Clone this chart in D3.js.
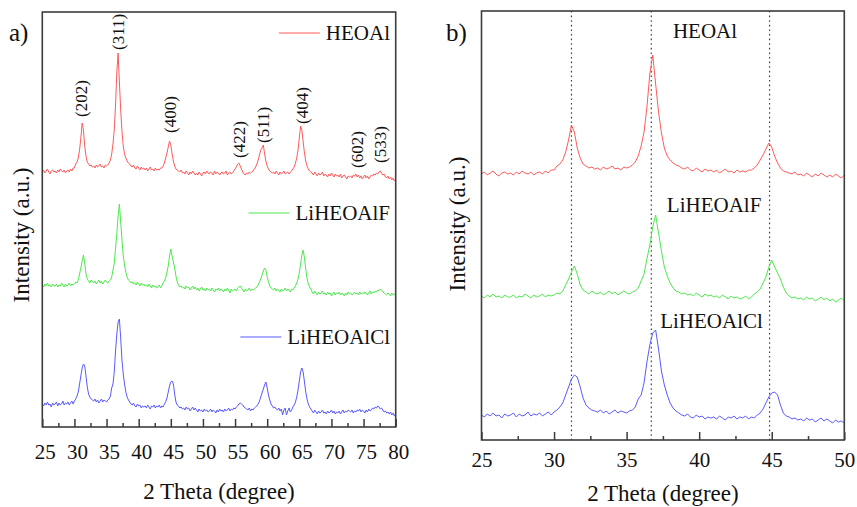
<!DOCTYPE html>
<html>
<head>
<meta charset="utf-8">
<script src="https://cdn.jsdelivr.net/npm/d3@7"></script>
<style>
  body { margin: 0; background: #fff; }
  svg text { font-family: "Liberation Serif", "Times New Roman", Times, "DejaVu Serif", serif; fill: #111; }
</style>
</head>
<body>
<svg id="chart" width="857" height="507"></svg>
<script>
// scan grid: 25-80 deg, 0.2 deg step
var scanStart = 25, scanStep = 0.2, scanCount = 276;

// intensities (a.u.), one value per scan step
var heoal = [
  8,10,7,9,11,8,6,9,10,8,
  9,7,10,8,11,9,8,10,7,9,
  10,8,11,9,12,12,16,18,22,30,
  42,57,50,34,24,18,16,14,15,13,
  14,12,15,13,14,16,13,14,12,15,
  14,15,17,20,26,36,50,75,108,127,
  98,70,49,34,26,22,19,17,16,14,
  13,15,12,11,14,12,10,13,11,12,
  10,12,9,11,13,10,11,9,12,10,
  11,10,12,12,14,17,22,27,33,39,
  35,26,19,14,11,10,9,8,10,7,
  8,6,9,7,5,8,6,9,7,5,
  7,5,8,6,4,7,8,6,9,7,
  6,8,7,5,9,6,8,7,5,7,
  8,6,7,9,5,7,8,6,7,9,
  11,13,16,17,14,11,8,6,5,7,
  6,8,7,8,9,11,13,16,20,25,
  30,32,35,26,19,14,11,9,8,7,
  8,6,9,7,5,8,6,7,9,6,
  7,8,6,8,9,11,13,17,22,30,
  42,54,50,38,27,19,14,11,9,8,
  7,5,8,6,4,7,5,6,8,4,
  6,5,3,6,4,7,5,3,6,4,
  5,3,6,2,4,5,3,1,4,3,
  4,2,5,4,6,3,5,2,4,1,
  3,5,2,4,1,3,5,4,6,5,
  7,6,8,9,7,5,6,3,2,4,
  1,3,0,2,-1,1
];
var liheoalF = [
  11,9,12,10,13,10,11,9,12,10,
  10,12,9,11,10,13,11,9,12,10,
  11,13,10,12,11,12,14,13,16,22,
  28,35,41,33,22,17,15,13,16,14,
  13,15,12,14,16,13,15,12,14,16,
  14,13,15,16,19,26,33,48,62,80,
  92,74,56,40,31,24,19,16,15,13,
  14,12,13,11,14,12,10,13,11,12,
  10,11,9,12,10,8,11,9,10,8,
  9,11,8,10,13,15,18,24,30,40,
  47,40,34,28,20,14,11,9,10,8,
  9,7,10,8,9,6,8,10,7,9,
  6,8,5,7,9,6,7,5,8,6,
  7,5,8,6,4,7,6,8,5,7,
  6,4,7,5,8,6,3,7,5,6,
  7,5,8,9,10,8,6,4,7,5,
  6,8,5,7,6,7,8,9,11,14,
  17,21,25,28,26,19,14,10,8,7,
  6,8,5,7,6,4,7,5,6,8,
  5,7,6,4,7,6,8,10,13,17,
  23,32,41,46,38,27,18,12,9,7,
  4,2,5,3,1,4,2,3,5,2,
  3,1,4,2,3,0,2,4,1,3,
  2,4,1,3,2,0,3,1,4,2,
  3,1,2,4,2,3,1,4,2,3,
  2,4,3,1,3,5,2,4,3,5,
  4,6,5,7,6,4,3,2,1,3,
  2,0,3,1,2,0
];
var liheoalCl = [
  10,8,11,9,12,9,10,7,11,9,
  10,12,8,11,9,10,13,9,11,10,
  12,9,11,13,10,13,15,18,22,30,
  38,46,50,48,38,27,20,17,15,14,
  13,15,12,14,11,13,15,12,14,13,
  12,14,15,18,26,30,42,63,80,92,
  95,76,54,40,30,22,17,14,12,10,
  9,11,8,7,10,8,9,6,8,7,
  8,6,9,7,5,8,7,9,6,8,
  7,9,6,8,7,10,12,16,22,28,
  32,33,30,20,12,9,8,6,7,5,
  6,4,7,5,6,3,5,7,4,6,
  4,2,5,3,4,2,5,3,4,2,
  3,5,2,4,3,1,4,2,5,3,
  4,2,5,3,4,6,3,5,4,6,
  5,7,8,10,11,10,9,7,6,5,
  4,6,3,5,4,6,7,8,10,13,
  17,21,25,29,32,26,19,14,10,8,
  6,7,5,4,6,3,5,-1,4,6,
  -1,3,6,2,4,7,9,12,17,24,
  33,42,46,42,32,22,15,10,7,5,
  3,1,4,2,0,3,1,2,4,1,
  2,0,3,1,2,4,1,3,0,2,
  1,3,0,2,4,1,3,2,4,3,
  2,4,1,3,2,4,3,5,2,4,
  3,1,4,2,5,3,4,6,5,7,
  6,8,7,5,6,4,2,3,1,2,
  0,2,-1,1,-2,0
];

var seriesNames = ["HEOAl", "LiHEOAlF", "LiHEOAlCl"];
var seriesColors = ["#ff5a5a", "#4ee84e", "#5a5aff"];
// vertical stacking offsets (a.u.) in panel a and panel b
var offsetsA = [247, 131, 13];
var offsetsB = [258, 133, 15];

// reflections marked in panel a
var hklLabels = ["(202)", "(311)", "(400)", "(422)", "(511)", "(404)", "(602)", "(533)"];
var hklAngles = [31.1, 36.8, 44.9, 55.6, 59.4, 65.4, 74.0, 77.6];
var hklLevels = [63, 130, 47, 22, 37, 56, 12, 17];

// dotted reference lines in panel b (HEOAl peak positions)
var refAngles = [31.2, 36.7, 44.85];

var majorTicksA = [25, 30, 35, 40, 45, 50, 55, 60, 65, 70, 75, 80];
var minorTicksA = [27.5, 32.5, 37.5, 42.5, 47.5, 52.5, 57.5, 62.5, 67.5, 72.5, 77.5];
var majorTicksB = [25, 30, 35, 40, 45, 50];
var minorTicksB = [27.5, 32.5, 37.5, 42.5, 47.5];

var twoTheta = d3.range(scanCount).map(function(i) { return +(scanStart + i * scanStep).toFixed(1); });
var allSeries = [heoal, liheoalF, liheoalCl];

var serifFont = "'Liberation Serif', 'Times New Roman', Times, 'DejaVu Serif', serif";
var svg = d3.select("#chart").attr("font-family", serifFont);
var frameColor = "#3c3c3c";

function drawPanel(p) {
  var x = d3.scaleLinear().domain(p.xDomain).range([p.left, p.right]);
  var y = d3.scaleLinear().domain([0, p.bottom - p.top]).range([p.bottom, p.top]);
  var g = svg.append("g");

  var clipId = "clip-" + p.name;
  svg.append("clipPath").attr("id", clipId)
    .append("rect")
    .attr("x", p.left).attr("y", p.top)
    .attr("width", p.right - p.left).attr("height", p.bottom - p.top);

  if (p.refAngles) {
    g.selectAll(".ref").data(p.refAngles).enter().append("line")
      .attr("x1", function(d) { return x(d); })
      .attr("x2", function(d) { return x(d); })
      .attr("y1", p.top).attr("y2", p.bottom)
      .attr("stroke", "#444").attr("stroke-width", 1.2)
      .attr("stroke-dasharray", "1.6,3");
  }

  allSeries.forEach(function(vals, k) {
    var pts = vals.map(function(v, i) { return { t: twoTheta[i], v: v }; })
      .filter(function(d) { return d.t <= p.xDomain[1] + 1e-9; });
    var line = d3.line()
      .x(function(d) { return x(d.t); })
      .y(function(d) { return y(p.offsets[k] + d.v); });
    g.append("path")
      .datum(pts)
      .attr("clip-path", "url(#" + clipId + ")")
      .attr("fill", "none")
      .attr("stroke", seriesColors[k])
      .attr("stroke-width", 1)
      .attr("d", line);
  });

  // frame
  g.append("rect")
    .attr("x", p.left).attr("y", p.top)
    .attr("width", p.right - p.left).attr("height", p.bottom - p.top)
    .attr("fill", "none").attr("stroke", frameColor).attr("stroke-width", 1.6);

  // bottom axis, ticks pointing inward
  var major = g.append("g")
    .attr("transform", "translate(0," + p.bottom + ")")
    .call(d3.axisBottom(x).tickValues(p.major).tickFormat(d3.format("d"))
      .tickSizeInner(-8).tickSizeOuter(0).tickPadding(p.tickPad));
  major.attr("font-family", serifFont).attr("font-size", 21);
  major.select(".domain").remove();
  major.selectAll("line").attr("stroke", frameColor).attr("stroke-width", 1.5);
  major.selectAll("text").attr("dx", p.labelShift).attr("fill", "#111");

  var minor = g.append("g")
    .attr("transform", "translate(0," + p.bottom + ")")
    .call(d3.axisBottom(x).tickValues(p.minor).tickFormat("").tickSizeInner(-4).tickSizeOuter(0));
  minor.select(".domain").remove();
  minor.selectAll("line").attr("stroke", frameColor).attr("stroke-width", 1.5);

  // axis titles
  g.append("text")
    .attr("x", (p.left + p.right) / 2).attr("y", p.xTitleY)
    .attr("text-anchor", "middle").style("font-size", "23px")
    .text("2 Theta (degree)");
  g.append("text")
    .attr("transform", "translate(" + p.yTitleX + "," + p.yTitleY + ") rotate(-90)")
    .attr("text-anchor", "middle").style("font-size", "23px")
    .text("Intensity (a.u.)");

  g.append("text")
    .attr("x", p.tagX).attr("y", 41)
    .style("font-size", "25px")
    .text(p.tag);

  return { x: x, y: y, g: g };
}

var A = drawPanel({
  name: "a", xDomain: [25, 80], left: 42.3, right: 395.7, top: 12, bottom: 427,
  offsets: offsetsA, major: majorTicksA, minor: minorTicksA, tickPad: 17, labelShift: 2.5,
  xTitleY: 499, yTitleX: 29, yTitleY: 235, tag: "a)", tagX: 9
});
var B = drawPanel({
  name: "b", xDomain: [25, 50], left: 481.5, right: 844.3, top: 11, bottom: 440,
  offsets: offsetsB, major: majorTicksB, minor: minorTicksB, tickPad: 12, labelShift: 0,
  xTitleY: 501, yTitleX: 465, yTitleY: 224, tag: "b)", tagX: 446, refAngles: refAngles
});

// hkl labels in panel a (rotated, reading bottom-to-top)
A.g.selectAll(".hkl").data(hklLabels).enter().append("text")
  .attr("transform", function(d, i) {
    return "translate(" + A.x(hklAngles[i]) + "," + A.y(offsetsA[0] + hklLevels[i]) + ") rotate(-90)";
  })
  .attr("dy", "0.35em")
  .style("font-size", "17px")
  .text(function(d) { return d; });

// legend in panel a: sample line + name, right aligned
var legendLevelsA = [147, 83, 77];
seriesNames.forEach(function(name, k) {
  var cy = A.y(offsetsA[k] + legendLevelsA[k]);
  var t = A.g.append("text")
    .attr("x", 390).attr("y", cy + 7)
    .attr("text-anchor", "end")
    .style("font-size", "21px")
    .text(name);
  var w = t.node().getComputedTextLength();
  A.g.append("line")
    .attr("x1", 390 - w - 47).attr("x2", 390 - w - 6)
    .attr("y1", cy).attr("y2", cy)
    .attr("stroke", seriesColors[k]).attr("stroke-width", 1.2);
});

// sample names in panel b
var nameAnglesB = [38.19, 37.77, 37.31];
var nameLevelsB = [144, 95, 97];
seriesNames.forEach(function(name, k) {
  B.g.append("text")
    .attr("x", B.x(nameAnglesB[k]))
    .attr("y", B.y(offsetsB[k] + nameLevelsB[k]))
    .style("font-size", "21px")
    .text(name);
});
</script>
</body>
</html>
